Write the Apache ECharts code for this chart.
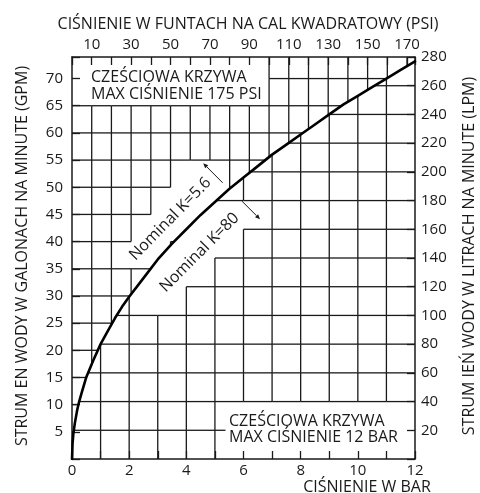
<!DOCTYPE html>
<html><head><meta charset="utf-8">
<script src="https://cdn.jsdelivr.net/npm/echarts@6/dist/echarts.min.js"></script>
<style>html,body{margin:0;padding:0;background:#fff}#c{width:480px;height:493px}</style>
</head><body><div id="c"></div>
<script>
// ---------------- data ----------------
const barTickLabels = [0, 2, 4, 6, 8, 10, 12];
const psiTickLabels = [10, 30, 50, 70, 90, 110, 130, 150, 170];
const gpmTickLabels = [5, 10, 15, 20, 25, 30, 35, 40, 45, 50, 55, 60, 65, 70];
const lpmTickLabels = [20, 40, 60, 80, 100, 120, 140, 160, 180, 200, 220, 240, 260, 280];
// grid lines (upper field: PSI x GPM, lower field: BAR x LPM)
const psiGrid = [10, 20, 30, 40, 50, 60, 70, 80, 90, 100, 110, 120, 130, 140, 150, 160, 170];
const gpmGrid = [5, 10, 15, 20, 25, 30, 35, 40, 45, 50, 55, 60, 65, 70];
const barGrid = [1, 2, 3, 4, 5, 6, 7, 8, 9, 10, 11];
const lpmGrid = [20, 40, 60, 80, 100, 120, 140, 160, 180, 200, 220, 240, 260];
// curve (pressure in bar, flow in LPM)
const curveBar = [0, 0.02, 0.05, 0.1, 0.18, 0.25, 0.35, 0.5, 0.75, 1, 1.25, 1.5, 1.75, 2, 2.5, 3, 3.5, 4, 4.5, 5,
  5.5, 6, 6.5, 7, 7.5, 8, 8.5, 9, 9.5, 10, 10.5, 11, 11.5, 12];
const curveLpm = [0, 11, 18, 25, 34, 40, 47, 57, 69, 80, 89, 98, 106, 113, 126, 139, 150, 160, 170, 179,
  188, 196, 204, 212, 219, 226, 233, 240, 247, 253, 259, 265, 271, 277];

// ---------------- units ----------------
const PSI_PER_BAR = 14.5038, LPM_PER_GPM = 3.78541;
const BAR_MAX = 12, LPM_MAX = 280;
const PSI_MAX = BAR_MAX * PSI_PER_BAR, GPM_MAX = LPM_MAX / LPM_PER_GPM;

const FONT = '"Open Sans", "Noto Sans", sans-serif';
const INK = '#1a1a1a';

function interp(xs, ys, x) {
  const n = xs.length;
  let i = 0;
  if (x <= xs[0]) i = 0;
  else if (x >= xs[n - 1]) i = n - 2;
  else { while (i < n - 2 && xs[i + 1] < x) i++; }
  const t = (x - xs[i]) / (xs[i + 1] - xs[i]);
  return ys[i] + t * (ys[i + 1] - ys[i]);
}
const lpmAt = b => interp(curveBar, curveLpm, b);
const barAt = l => interp(curveLpm, curveBar, l);
const gpmAt = p => lpmAt(p / PSI_PER_BAR) / LPM_PER_GPM;
const psiAt = g => barAt(g * LPM_PER_GPM) * PSI_PER_BAR;

// annotation layout (data-space anchors)
const labelK56 = {text: 'Nominal K=5.6', bar: 3.44, lpm: 167.2, angle: 45.5};
const labelK80 = {text: 'Nominal K=80', bar: 4.46, lpm: 143.8, angle: 45};
const arrowK56 = {from: [5.27, 192.4], to: [4.59, 206.0]};
const arrowK80 = {from: [5.94, 179.7], to: [6.58, 167.0]};
const LABEL_FONT_SIZE = 16;

const measureCtx = document.createElement('canvas').getContext('2d');
function textWidth(t, size) { measureCtx.font = size + 'px ' + FONT; return measureCtx.measureText(t).width; }

function labelPoly(center, angleDeg, text, padL, padH) {
  const th = angleDeg * Math.PI / 180;
  const u = [Math.cos(th), -Math.sin(th)], n = [Math.sin(th), Math.cos(th)];
  const hl = textWidth(text, LABEL_FONT_SIZE) / 2 + padL, hh = LABEL_FONT_SIZE / 2 + padH;
  const c = center;
  return [
    [c[0] - u[0] * hl - n[0] * hh, c[1] - u[1] * hl - n[1] * hh],
    [c[0] + u[0] * hl - n[0] * hh, c[1] + u[1] * hl - n[1] * hh],
    [c[0] + u[0] * hl + n[0] * hh, c[1] + u[1] * hl + n[1] * hh],
    [c[0] - u[0] * hl + n[0] * hh, c[1] - u[1] * hl + n[1] * hh]
  ];
}
function polysIntersect(A, B) {
  for (const P of [A, B]) {
    for (let i = 0; i < P.length; i++) {
      const p = P[i], q = P[(i + 1) % P.length];
      const ax = q[1] - p[1], ay = p[0] - q[0];
      let aMin = Infinity, aMax = -Infinity, bMin = Infinity, bMax = -Infinity;
      for (const v of A) { const d = v[0] * ax + v[1] * ay; aMin = Math.min(aMin, d); aMax = Math.max(aMax, d); }
      for (const v of B) { const d = v[0] * ax + v[1] * ay; bMin = Math.min(bMin, d); bMax = Math.max(bMax, d); }
      if (aMax < bMin || bMax < aMin) return false;
    }
  }
  return true;
}

function buildGrid(cfg) {
  const xb = [0].concat(cfg.xs, [cfg.xmax]);
  const yb = [0].concat(cfg.ys, [cfg.ymax]);
  const f = cfg.f, finv = cfg.finv;
  const segs = new Map();
  const add = (xa, ya, xc, yc) => {
    if (xa === xc) { if (xa <= 0 || xa >= cfg.xmax || yc - ya < 1e-6) return; }
    else { if (ya <= 0 || ya >= cfg.ymax || xc - xa < 1e-6) return; }
    const k = [xa, ya, xc, yc].map(v => v.toFixed(4)).join(',');
    segs.set(k, [xa, ya, xc, yc]);
  };
  for (let i = 0; i < xb.length - 1; i++) {
    for (let j = 0; j < yb.length - 1; j++) {
      const x0 = xb[i], x1 = xb[i + 1], y0 = yb[j], y1 = yb[j + 1];
      if (cfg.side === 'below') { if (y0 >= f(x1)) continue; }
      else { if (y1 <= f(x0)) continue; }
      if (cfg.cleared(x0, x1, y0, y1)) continue;
      if (cfg.side === 'below') {
        const s0 = Math.max(x0, finv(y0)); if (s0 < x1) add(s0, y0, x1, y0);
        const s1 = Math.max(x0, finv(y1)); if (s1 < x1) add(s1, y1, x1, y1);
        const fx0 = f(x0); if (fx0 > y0) add(x0, y0, x0, Math.min(y1, fx0));
        const fx1 = f(x1); if (fx1 > y0) add(x1, y0, x1, Math.min(y1, fx1));
      } else {
        const e0 = Math.min(x1, finv(y0)); if (e0 > x0) add(x0, y0, e0, y0);
        const e1 = Math.min(x1, finv(y1)); if (e1 > x0) add(x0, y1, e1, y1);
        const fx0 = f(x0); if (fx0 < y1) add(x0, Math.max(y0, fx0), x0, y1);
        const fx1 = f(x1); if (fx1 < y1) add(x1, Math.max(y0, fx1), x1, y1);
      }
    }
  }
  let out = Array.from(segs.values());
  (cfg.clearRects || []).forEach(r => {
    const next = [];
    out.forEach(s => {
      const horiz = s[1] === s[3];
      if (horiz && s[1] > r.y0 && s[1] < r.y1) {
        if (s[0] < r.x0) next.push([s[0], s[1], Math.min(s[2], r.x0), s[3]]);
        if (s[2] > r.x1) next.push([Math.max(s[0], r.x1), s[1], s[2], s[3]]);
      } else if (!horiz && s[0] > r.x0 && s[0] < r.x1) {
        if (s[1] < r.y0) next.push([s[0], s[1], s[2], Math.min(s[3], r.y0)]);
        if (s[3] > r.y1) next.push([s[0], Math.max(s[1], r.y1), s[2], s[3]]);
      } else next.push(s);
    });
    out = next;
  });
  return out;
}

function segElements(segs, api) {
  return segs.map(s => {
    const a = api.coord([s[0], s[1]]), b = api.coord([s[2], s[3]]);
    return {type: 'line', shape: {x1: a[0], y1: a[1], x2: b[0], y2: b[1]},
      style: {stroke: INK, lineWidth: 1.3}, silent: true};
  });
}

function cellPoly(api, x0, x1, y0, y1) {
  return [api.coord([x0, y0]), api.coord([x1, y0]), api.coord([x1, y1]), api.coord([x0, y1])];
}

function renderUpper(params, api) {
  const c = api.coord([labelK56.bar * PSI_PER_BAR, labelK56.lpm / LPM_PER_GPM]);
  const poly = labelPoly(c, labelK56.angle, labelK56.text, 3, 4);
  const segs = buildGrid({
    xs: psiGrid, ys: gpmGrid, xmax: PSI_MAX, ymax: GPM_MAX, f: gpmAt, finv: psiAt, side: 'above',
    cleared: (x0, x1, y0, y1) => (x1 <= 100 + 1e-6 && y0 >= 65 - 1e-6) ||
      polysIntersect(cellPoly(api, x0, x1, y0, y1), poly)
  });
  return {type: 'group', children: segElements(segs, api)};
}

function renderLower(params, api) {
  const c = api.coord([labelK80.bar, labelK80.lpm]);
  const poly = labelPoly(c, labelK80.angle, labelK80.text, 4, 3);
  const segs = buildGrid({
    xs: barGrid, ys: lpmGrid, xmax: BAR_MAX, ymax: LPM_MAX, f: lpmAt, finv: barAt, side: 'below',
    cleared: (x0, x1, y0, y1) => polysIntersect(cellPoly(api, x0, x1, y0, y1), poly),
    clearRects: [{x0: 5.37, x1: BAR_MAX + 1, y0: -1, y1: 40}]
  });
  return {type: 'group', children: segElements(segs, api)};
}

function arrowEls(api, ar) {
  const a = api.coord(ar.from), b = api.coord(ar.to);
  const dx = b[0] - a[0], dy = b[1] - a[1], L = Math.hypot(dx, dy);
  const ux = dx / L, uy = dy / L, hl = 5, hw = 2.2;
  const bx = b[0] - ux * hl, by = b[1] - uy * hl;
  return [
    {type: 'line', shape: {x1: a[0], y1: a[1], x2: bx, y2: by}, style: {stroke: INK, lineWidth: 1}},
    {type: 'polygon', shape: {points: [[b[0], b[1]], [bx - uy * hw, by + ux * hw], [bx + uy * hw, by - ux * hw]]},
      style: {fill: INK}}
  ];
}

function renderAnno(params, api) {
  const els = [];
  [labelK56, labelK80].forEach(l => {
    const c = api.coord([l.bar, l.lpm]);
    els.push({type: 'text', x: c[0], y: c[1], rotation: l.angle * Math.PI / 180,
      style: {text: l.text, font: LABEL_FONT_SIZE + 'px ' + FONT, fill: INK, align: 'center', verticalAlign: 'middle'}});
  });
  els.push(...arrowEls(api, arrowK56), ...arrowEls(api, arrowK80));
  return {type: 'group', children: els};
}

const isIn = (arr, v) => arr.some(a => Math.abs(a - v) < 1e-6);
const axisCommon = {
  type: 'value',
  axisLine: {show: true, onZero: false, lineStyle: {color: INK, width: 1.5}},
  axisTick: {show: true, inside: true, length: 8, lineStyle: {color: INK, width: 1.3}},
  splitLine: {show: false},
  axisLabel: {color: INK, fontFamily: FONT, fontSize: 15, showMaxLabel: true, showMinLabel: true, hideOverlap: false}
};

const chart = echarts.init(document.getElementById('c'), null, {renderer: 'canvas'});
chart.setOption({
  animation: false,
  backgroundColor: '#fff',
  grid: {left: 72, top: 57, right: 65, bottom: 34, containLabel: false},
  xAxis: [
    Object.assign({}, axisCommon, {position: 'bottom', min: 0, max: BAR_MAX, interval: 1,
      axisLabel: Object.assign({}, axisCommon.axisLabel, {margin: 4,
        formatter: v => isIn(barTickLabels, v) ? String(Math.round(v)) : ''})}),
    Object.assign({}, axisCommon, {position: 'top', min: 0, max: PSI_MAX, interval: 10,
      axisLabel: Object.assign({}, axisCommon.axisLabel, {margin: 5,
        formatter: v => isIn(psiTickLabels, v) ? String(Math.round(v)) : ''})})
  ],
  yAxis: [
    Object.assign({}, axisCommon, {position: 'left', min: 0, max: GPM_MAX, interval: 5,
      axisLabel: Object.assign({}, axisCommon.axisLabel, {margin: 9,
        formatter: v => isIn(gpmTickLabels, v) ? String(Math.round(v)) : ''})}),
    Object.assign({}, axisCommon, {position: 'right', min: 0, max: LPM_MAX, interval: 20,
      axisLabel: Object.assign({}, axisCommon.axisLabel, {margin: 6,
        formatter: v => isIn(lpmTickLabels, v) ? String(Math.round(v)) : ''})})
  ],
  series: [
    {type: 'custom', xAxisIndex: 1, yAxisIndex: 0, data: [[0, 0]], renderItem: renderUpper, silent: true, z: 2, clip: false},
    {type: 'custom', xAxisIndex: 0, yAxisIndex: 1, data: [[0, 0]], renderItem: renderLower, silent: true, z: 2, clip: false},
    {type: 'line', xAxisIndex: 0, yAxisIndex: 1, data: curveBar.map((b, i) => [b, curveLpm[i]]),
      smooth: false, symbol: 'none', lineStyle: {color: '#000', width: 2.6, join: 'round', cap: 'round'}, z: 5, silent: true},
    {type: 'custom', xAxisIndex: 0, yAxisIndex: 1, data: [[0, 0]], renderItem: renderAnno, silent: true, z: 6, clip: false}
  ],
  graphic: [
    {type: 'text', x: 248, y: 24, style: {text: 'CIŚNIENIE W FUNTACH NA CAL KWADRATOWY (PSI)', font: '16px ' + FONT, fill: INK, align: 'center', verticalAlign: 'middle'}},
    {type: 'text', x: 22, y: 256, rotation: Math.PI / 2, style: {text: 'STRUM EN WODY W GALONACH NA MINUTE (GPM)', font: '16px ' + FONT, fill: INK, align: 'center', verticalAlign: 'middle'}},
    {type: 'text', x: 469, y: 256, rotation: Math.PI / 2, style: {text: 'STRUM IEŃ WODY W LITRACH NA MINUTE (LPM)', font: '16px ' + FONT, fill: INK, align: 'center', verticalAlign: 'middle'}},
    {type: 'text', x: 367, y: 487, style: {text: 'CIŚNIENIE W BAR', font: '16px ' + FONT, fill: INK, align: 'center', verticalAlign: 'middle'}},
    {type: 'text', x: 91, y: 77, style: {text: 'CZEŚCIOWA KRZYWA', font: '16px ' + FONT, fill: INK, align: 'left', verticalAlign: 'middle'}},
    {type: 'text', x: 91, y: 94, style: {text: 'MAX CIŚNIENIE 175 PSI', font: '16px ' + FONT, fill: INK, align: 'left', verticalAlign: 'middle'}},
    {type: 'text', x: 229, y: 421, style: {text: 'CZEŚCIOWA KRZYWA', font: '16px ' + FONT, fill: INK, align: 'left', verticalAlign: 'middle'}},
    {type: 'text', x: 229, y: 437.5, style: {text: 'MAX CIŚNIENIE 12 BAR', font: '16px ' + FONT, fill: INK, align: 'left', verticalAlign: 'middle'}}
  ]
});
</script>
</body></html>
